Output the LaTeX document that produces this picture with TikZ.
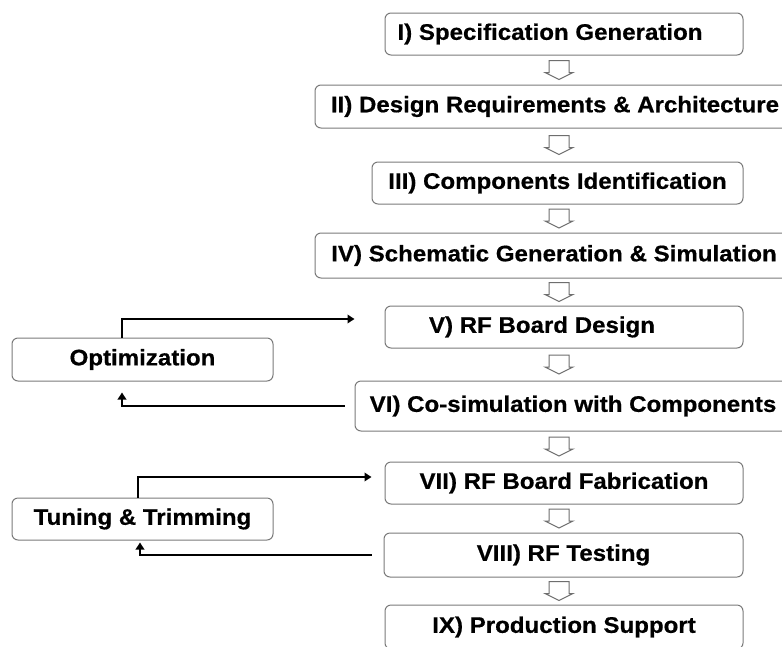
\documentclass[tikz,border=0pt]{standalone}
\usepackage{fontspec}
\setmainfont{Liberation Sans}[FakeStretch=1.07,FakeBold=0.6]
\usetikzlibrary{arrows.meta,calc}
\definecolor{boxgray}{HTML}{7A7A7A}
\definecolor{arrgray}{HTML}{6E6E6E}
\begin{document}
\begin{tikzpicture}[x=1pt,y=-1pt,
  stage/.style={draw=boxgray, line width=1pt, rounded corners=6pt, fill=white,
    inner sep=0pt, align=center, font=\fontsize{22.5pt}{26pt}\selectfont\bfseries},
  conn/.style={line width=2.8pt, -{Triangle[length=7pt,width=8.5pt]}},
  hollow/.pic={\draw[arrgray, line width=1pt, line join=miter]
    (-10,-9.5) -- (10,-9.5) -- (10,2.5) -- (14,2.5) -- (0,9.5) -- (-14,2.5) -- (-10,2.5) -- cycle;}]
\useasboundingbox (0,0) rectangle (782,646);
\clip (0,0) rectangle (782,646);
\fill[white] (0,0) rectangle (782,646);

\node[stage, minimum width=358pt, minimum height=42pt] (s1) at (564,34) {I) Specification Generation\hspace*{28pt}};
\node[stage, minimum width=480pt, minimum height=43pt] (s2) at (555,106.5) {II) Design Requirements \& Architecture};
\node[stage, minimum width=371pt, minimum height=42pt] (s3) at (557.5,183) {III) Components Identification};
\node[stage, minimum width=478pt, minimum height=45pt] (s4) at (554,255.5) {IV) Schematic Generation \& Simulation};
\node[stage, minimum width=358pt, minimum height=42pt] (s5) at (564,327) {V) RF Board Design\hspace*{44pt}};
\node[stage, minimum width=436pt, minimum height=50pt] (s6) at (573,406) {VI) Co-simulation with Components};
\node[stage, minimum width=358pt, minimum height=42pt] (s7) at (564,483) {VII) RF Board Fabrication};
\node[stage, minimum width=359pt, minimum height=44pt] (s8) at (563.5,555) {VIII) RF Testing};
\node[stage, minimum width=358pt, minimum height=44pt] (s9) at (564,627) {IX) Production Support};

\node[stage, minimum width=261pt, minimum height=43pt] (opt) at (142.5,359.5) {Optimization};
\node[stage, minimum width=261pt, minimum height=42pt] (tun) at (142.5,519) {Tuning \& Trimming};

\foreach \a/\b in {s1/s2,s2/s3,s3/s4,s4/s5,s5/s6,s6/s7,s7/s8,s8/s9}{
  \path ($(\a.south)!0.5!(\b.north)$) coordinate (m\a);
  \pic at (559,0 |- m\a) {hollow};
}

\draw[conn] ([xshift=-20.5pt]opt.north) |- ([xshift=-30pt,yshift=8pt]s5.west);
\draw[conn] ([xshift=-10pt]s6.west) -| ([xshift=-20.5pt,yshift=-11pt]opt.south);
\draw[conn] ([xshift=-4.5pt]tun.north) |- ([xshift=-13pt,yshift=6pt]s7.west);
\draw[conn] ([xshift=-12pt]s8.west) -| ([xshift=-2.5pt,yshift=-2pt]tun.south);
\end{tikzpicture}
\end{document}
